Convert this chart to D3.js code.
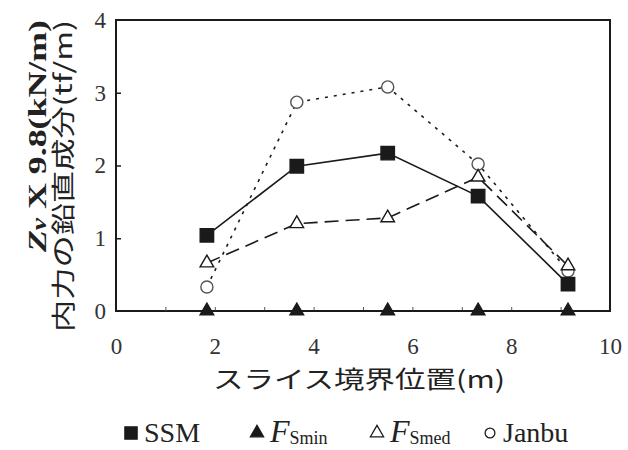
<!DOCTYPE html>
<html>
<head>
<meta charset="utf-8">
<script src="https://cdn.jsdelivr.net/npm/d3@7"></script>
<style>
  body { margin: 0; background: #fff; }
  svg { display: block; }
</style>
</head>
<body>
<div id="chart"></div>
<script>
// slice boundary positions (m)
const positions = [1.84, 3.66, 5.5, 7.33, 9.15];
const ssm   = [1.04, 1.99, 2.17, 1.58, 0.37];
const fsmin = [0, 0, 0, 0, 0];
const fsmed = [0.66, 1.2, 1.28, 1.84, 0.62];
const janbu = [0.33, 2.87, 3.08, 2.02, 0.55];
const xTicks = [0, 2, 4, 6, 8, 10];
const yTicks = [0, 1, 2, 3, 4];

const width = 628, height = 450;
const margin = { left: 116, right: 18, top: 20, bottom: 139 };

const svg = d3.select("#chart").append("svg")
    .attr("width", width)
    .attr("height", height);

const x = d3.scaleLinear().domain([0, 10]).range([margin.left, width - margin.right]);
const y = d3.scaleLinear().domain([0, 4]).range([height - margin.bottom, margin.top]);

const ink = "#1a1a1a";
const serif = "'Liberation Serif', 'DejaVu Serif', serif";
const cjk = "'Noto Sans CJK JP', sans-serif";

// frame
svg.append("rect")
    .attr("x", x(0)).attr("y", y(4))
    .attr("width", x(10) - x(0)).attr("height", y(0) - y(4))
    .attr("fill", "none").attr("stroke", ink).attr("stroke-width", 2);

// inward ticks
svg.append("g")
    .attr("transform", `translate(${x(0)},0)`)
    .call(d3.axisRight(y).tickValues([1, 2, 3]).tickSize(5).tickFormat(""))
    .call(g => g.select(".domain").remove())
    .call(g => g.selectAll("line").attr("stroke", ink).attr("stroke-width", 1.5));

svg.append("g")
    .attr("transform", `translate(0,${y(0)})`)
    .call(d3.axisTop(x).tickValues(d3.range(1, 10)).tickSize(4).tickFormat(""))
    .call(g => g.select(".domain").remove())
    .call(g => g.selectAll("line").attr("stroke", "#555").attr("stroke-width", 1));

// tick labels
svg.append("g")
    .attr("transform", `translate(${x(0) - 10},0)`)
    .call(d3.axisLeft(y).tickValues(yTicks).tickSize(0).tickPadding(0).tickFormat(d3.format("d")))
    .call(g => g.select(".domain").remove())
    .call(g => g.selectAll("text")
        .attr("font-family", serif).attr("font-size", 23).attr("fill", "#333"));

svg.append("g")
    .attr("transform", `translate(0,${y(0) + 27})`)
    .call(d3.axisBottom(x).tickValues(xTicks).tickSize(0).tickPadding(0).tickFormat(d3.format("d")))
    .call(g => g.select(".domain").remove())
    .call(g => g.selectAll("text")
        .attr("font-family", serif).attr("font-size", 23).attr("fill", "#333"));

// axis titles
svg.append("text")
    .attr("x", 359).attr("y", 388)
    .attr("text-anchor", "middle")
    .attr("font-family", cjk).attr("font-size", 24).attr("fill", "#222")
    .attr("textLength", 292).attr("lengthAdjust", "spacingAndGlyphs")
    .text("スライス境界位置(m)");

const yt1 = svg.append("text")
    .attr("transform", "translate(46,252) rotate(-90)")
    .attr("font-family", serif).attr("font-size", 26).attr("font-weight", "bold").attr("fill", "#222")
    .attr("textLength", 232).attr("lengthAdjust", "spacingAndGlyphs");
yt1.append("tspan").attr("font-style", "italic").text("Z");
yt1.append("tspan").attr("font-style", "italic").attr("font-size", 20).text("v");
yt1.append("tspan").text("  X 9.8(kN/m)");

svg.append("text")
    .attr("transform", "translate(72,332) rotate(-90)")
    .attr("font-family", cjk).attr("font-size", 24).attr("fill", "#222")
    .attr("textLength", 312).attr("lengthAdjust", "spacingAndGlyphs")
    .text("内力の鉛直成分(tf/m)");

// series
const series = [
    { name: "Janbu", values: janbu, dash: "3,6", shape: "circle", fill: "#fff" },
    { name: "FSmed", values: fsmed, dash: "14,7", shape: "triangle", fill: "#fff" },
    { name: "SSM", values: ssm, dash: null, shape: "square", fill: ink },
    { name: "FSmin", values: fsmin, dash: null, shape: "triangle", fill: ink }
];

const line = d3.line().x(d => x(d[0])).y(d => y(d[1]));
const symbols = { circle: d3.symbolCircle, triangle: d3.symbolTriangle, square: d3.symbolSquare };
const sizes = { circle: 115, triangle: 80, square: 180 };

series.forEach(s => {
    const pts = positions.map((p, i) => [p, s.values[i]]);
    svg.append("path")
        .datum(pts)
        .attr("d", line)
        .attr("fill", "none")
        .attr("stroke", ink)
        .attr("stroke-width", 1.6)
        .attr("stroke-dasharray", s.dash);
    svg.append("g").selectAll("path")
        .data(pts)
        .join("path")
        .attr("transform", d => `translate(${x(d[0])},${y(d[1])})`)
        .attr("d", d3.symbol(symbols[s.shape], sizes[s.shape]))
        .attr("fill", s.fill)
        .attr("stroke", s.shape === "circle" ? "#555" : ink)
        .attr("stroke-width", 1.4);
});

// legend
const legend = [
    { shape: "square", fill: ink, x: 131, label: "SSM" },
    { shape: "triangle", fill: ink, x: 257, label: "F", sub: "Smin" },
    { shape: "triangle", fill: "#fff", x: 377, label: "F", sub: "Smed" },
    { shape: "circle", fill: "#fff", x: 490, label: "Janbu" }
];
const ly = 433;
legend.forEach(l => {
    svg.append("path")
        .attr("transform", `translate(${l.x},${ly})`)
        .attr("d", d3.symbol(symbols[l.shape], l.shape === "square" ? 150 : 75))
        .attr("fill", l.fill)
        .attr("stroke", ink).attr("stroke-width", 1.3);
    const t = svg.append("text")
        .attr("x", l.x + 13).attr("y", ly + 9)
        .attr("font-family", serif).attr("font-size", 28).attr("fill", "#222");
    if (l.sub) {
        t.append("tspan").attr("font-style", "italic").attr("font-size", 32).text(l.label);
        t.append("tspan").attr("font-size", 18).attr("dy", 2).text(l.sub);
    } else {
        t.text(l.label);
    }
});
</script>
</body>
</html>
